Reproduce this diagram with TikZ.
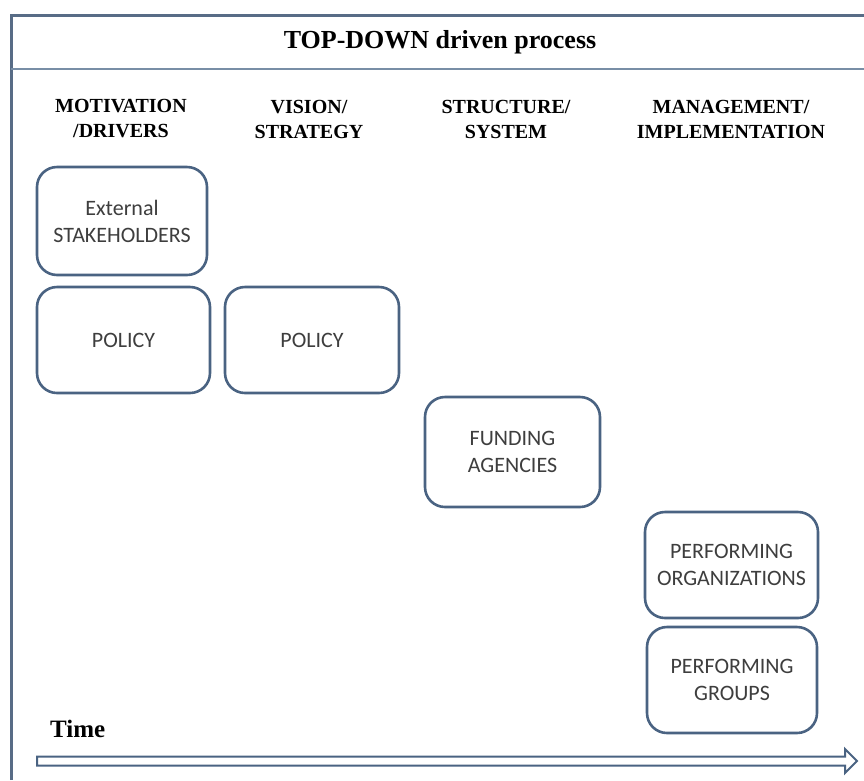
\documentclass[tikz,border=0pt]{standalone}
\usepackage{fontspec}
\setmainfont{Liberation Serif}
\newfontfamily\boxfont{Carlito}
\definecolor{frameline}{RGB}{88,108,134}
\definecolor{ruleline}{RGB}{120,142,166}
\definecolor{boxline}{RGB}{74,99,130}
\definecolor{boxtext}{RGB}{62,62,62}
\begin{document}
\begin{tikzpicture}[x=1pt,y=-1pt,
  stagebox/.style={draw=boxline, line width=2.6pt, rounded corners=20pt,
    fill=white, align=center, inner sep=0pt, text=boxtext,
    font=\boxfont\fontsize{22}{27}\selectfont},
  header/.style={align=center, inner sep=0pt,
    font=\bfseries\fontsize{20}{25}\selectfont},
  titletext/.style={inner sep=0pt, font=\bfseries\fontsize{26}{30}\selectfont},
  timearrow/.style={draw=boxline, line width=2pt, fill=white, line join=miter}]
  \useasboundingbox (0,0) rectangle (864,780);

  % outer frame and title bar
  \coordinate (frameTL) at (11,15);
  \coordinate (frameTR) at (864,15);
  \coordinate (frameBL) at (11,780);
  \coordinate (ruleL) at (11,69);
  \coordinate (ruleR) at (864,69);
  \draw[frameline, line width=3pt] (frameBL) -- (frameTL) -- (frameTR);
  \draw[ruleline, line width=1.8pt] (ruleL) -- (ruleR);

  \node[titletext, anchor=base] (title) at (440,48) {TOP-DOWN driven process};

  % column headers
  \node[header] (h1) at (121,119) {MOTIVATION\\/DRIVERS};
  \node[header] (h2) at (309,119) {VISION/\\STRATEGY};
  \node[header] (h3) at (506,119) {STRUCTURE/\\SYSTEM};
  \node[header] (h4) at (731,119) {MANAGEMENT/\\IMPLEMENTATION};

  % stage boxes
  \node[stagebox, minimum width=170pt, minimum height=108pt] (ext) at (122,221) {External\\STAKEHOLDERS};
  \node[stagebox, minimum width=173pt, minimum height=106pt] (pol1) at (123.5,340) {POLICY};
  \node[stagebox, minimum width=174pt, minimum height=106pt] (pol2) at (312,340) {POLICY};
  \node[stagebox, minimum width=175pt, minimum height=110pt] (fund) at (512.5,452) {FUNDING\\AGENCIES};
  \node[stagebox, minimum width=173pt, minimum height=106pt] (porg) at (731.5,565) {PERFORMING\\ORGANIZATIONS};
  \node[stagebox, minimum width=170pt, minimum height=106pt] (pgrp) at (732,680) {PERFORMING\\GROUPS};

  % time axis
  \node[titletext, anchor=base west, font=\bfseries\fontsize{25}{30}\selectfont] (time) at (50,737) {Time};
  \draw[timearrow] (37,756.5) -- (845,756.5) -- (845,749) -- (857,761) -- (845,773)
    -- (845,765.5) -- (37,765.5) -- cycle;
\end{tikzpicture}
\end{document}
